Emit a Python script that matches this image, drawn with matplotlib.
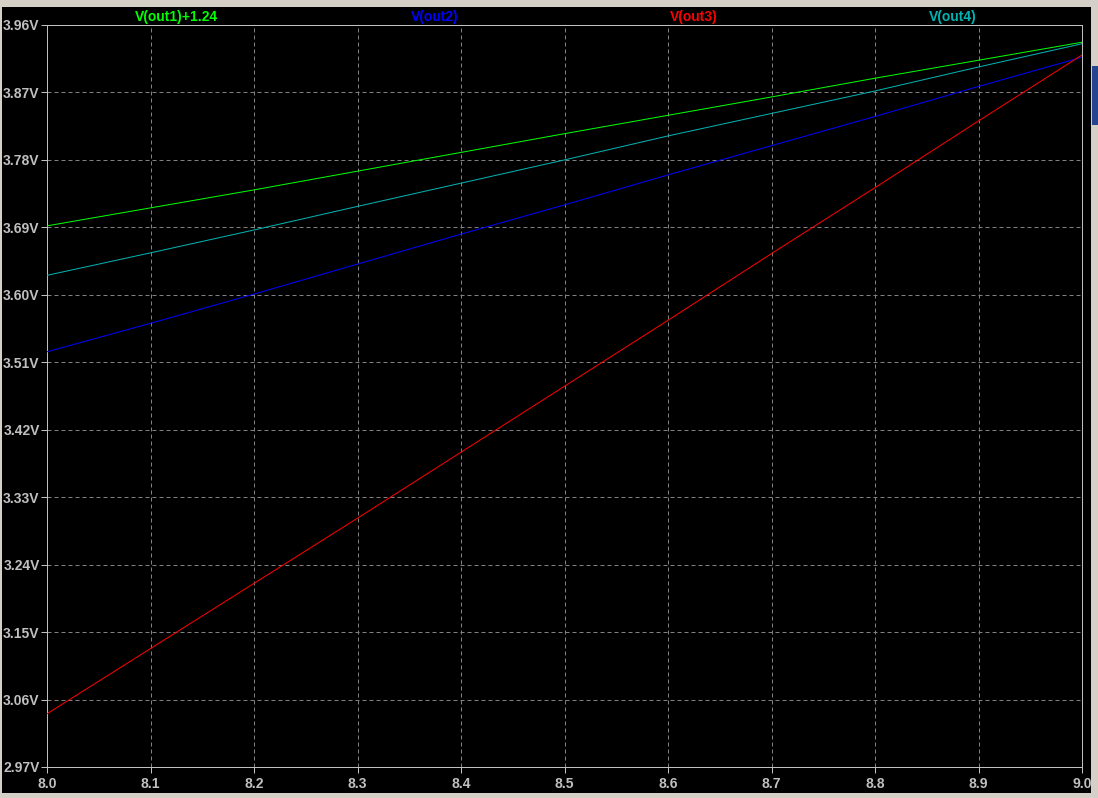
import numpy as np
import matplotlib.pyplot as plt
from matplotlib.patches import Rectangle

# sweep values (x axis) and the four traces
sweep = [8.0, 8.1, 8.2, 8.3, 8.4, 8.5, 8.6, 8.7, 8.8, 8.9, 9.0]
out1_plus = [3.692, 3.716, 3.740, 3.765, 3.790, 3.815, 3.8395, 3.864, 3.889, 3.913, 3.937]
out2 = [3.524, 3.562, 3.601, 3.641, 3.681, 3.720, 3.760, 3.799, 3.838, 3.878, 3.917]
out3 = [3.041, 3.128, 3.215, 3.302, 3.390, 3.478, 3.566, 3.655, 3.743, 3.832, 3.920]
out4 = [3.626, 3.656, 3.6865, 3.718, 3.749, 3.780, 3.812, 3.842, 3.872, 3.904, 3.935]

names = ['V(out1)+1.24', 'V(out2)', 'V(out3)', 'V(out4)']
colors = ['#00ff00', '#0000ff', '#ff0000', '#00b4b4']

y_ticks = [2.97, 3.06, 3.15, 3.24, 3.33, 3.42, 3.51, 3.60, 3.69, 3.78, 3.87, 3.96]
x_ticks = [8.0, 8.1, 8.2, 8.3, 8.4, 8.5, 8.6, 8.7, 8.8, 8.9, 9.0]

W, H = 1098, 798
px = 0.72  # one pixel in points at dpi 100
fg = '#c0c0c0'

plt.rcParams['lines.scale_dashes'] = False
plt.rcParams['font.family'] = ['Liberation Sans', 'DejaVu Sans']
fig = plt.figure(figsize=(W / 100, H / 100), dpi=100, facecolor='#d4d0c8')

# black window area of the waveform viewer
fig.patches.append(Rectangle((2 / W, 5 / H), 1089 / W, 786 / H,
                             transform=fig.transFigure, facecolor='black',
                             edgecolor='none', zorder=-10))
# small bit of another window peeking in on the right
fig.patches.append(Rectangle((1092 / W, 1 - 125 / H), 6 / W, 59 / H,
                             transform=fig.transFigure, facecolor='#27458f',
                             edgecolor='none', zorder=-10))

ax = fig.add_axes([47 / W, 1 - 767 / H, 1035 / W, 742 / H])
ax.set_facecolor('black')

for vals, c in zip([out1_plus, out2, out3, out4], colors):
    ax.plot(sweep, vals, color=c, lw=1 * px, zorder=3)

ax.set_xlim(8.0, 9.0)
ax.set_ylim(2.97, 3.96)
ax.set_xticks(x_ticks)
ax.set_yticks(y_ticks)
ax.set_xticklabels([f'{v:.1f}' for v in x_ticks])
ax.set_yticklabels([f'{v:.2f}V' for v in y_ticks])

ax.grid(True, color='#808080', lw=1 * px, linestyle=(0, (4 * px, 3 * px)))
ax.set_axisbelow(True)

for s in ax.spines.values():
    s.set_color(fg)
    s.set_linewidth(1 * px)

ax.tick_params(axis='both', direction='out', length=6 * px, width=1 * px,
               color=fg, labelcolor=fg, labelsize=10)
ax.tick_params(axis='y', pad=1)
ax.tick_params(axis='x', pad=3)
for lab in ax.get_xticklabels() + ax.get_yticklabels():
    lab.set_fontweight('bold')

# trace names across the top
for i, (n, c) in enumerate(zip(names, colors)):
    ax.text((2 * i + 1) / 8, 1 + 8 / 742, n, color=c, fontsize=10,
            fontweight='bold', ha='center', va='center',
            transform=ax.transAxes)

fig.savefig('out.png', dpi=100, facecolor=fig.get_facecolor())
